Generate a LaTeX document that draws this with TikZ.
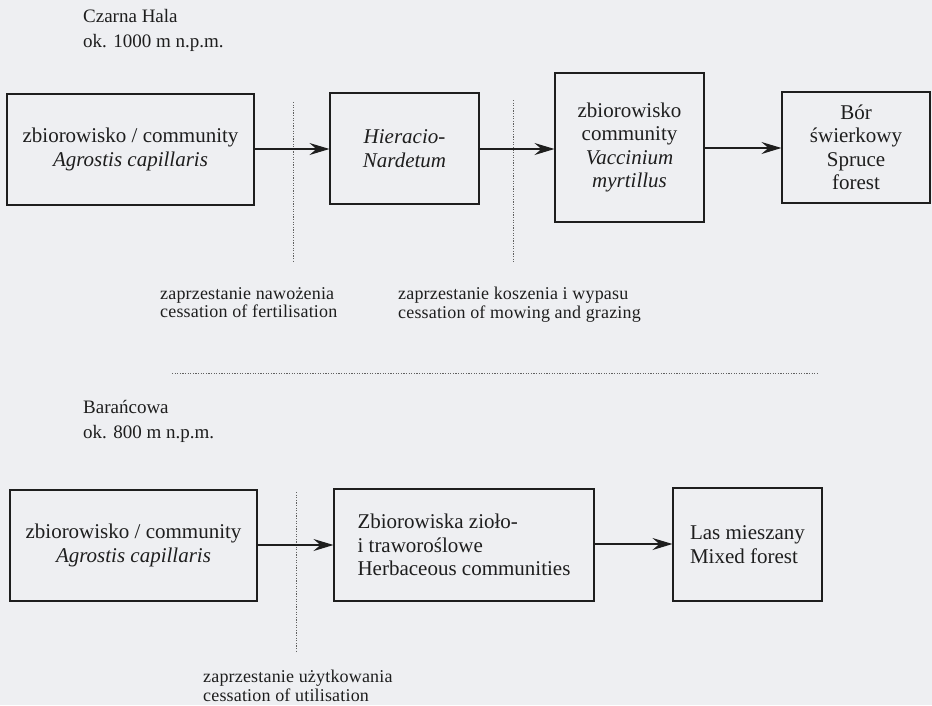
\documentclass[tikz,border=0pt]{standalone}
\usepackage{fontspec}
\setmainfont{Liberation Serif}
\usetikzlibrary{arrows.meta}
\definecolor{bg}{RGB}{238,239,242}
\definecolor{ink}{RGB}{30,30,30}
\begin{document}
\begin{tikzpicture}[x=1pt,y=-1pt,
  box/.style={draw=ink, line width=1.1pt, inner sep=0pt, align=center,
    font=\fontsize{21}{23.5}\selectfont, text=ink},
  arr/.style={draw=ink, line width=1.1pt, -{Stealth[length=20pt,width=12pt,inset=7pt]}},
  dotline/.style={draw=ink!70, line width=1pt, dash pattern=on 1.2pt off 1.4pt},
  title/.style={anchor=north west, inner sep=0pt, align=left,
    font=\fontsize{19}{25}\selectfont, text=ink},
  lbl/.style={anchor=north west, inner sep=0pt, align=left,
    font=\fontsize{18}{18.5}\selectfont\addfontfeature{LetterSpace=1}, text=ink}]
\fill[bg] (0,0) rectangle (932,705);
\useasboundingbox (0,0) rectangle (932,705);

% top row
\node[title] (t1) at (83,9) {Czarna Hala\\ok. 1000 m n.p.m.};
\node[box, minimum width=247pt, minimum height=111pt] (b1) at (130.5,149.5)
  {zbiorowisko / community\\\textit{Agrostis capillaris}};
\node[box, minimum width=149pt, minimum height=111pt] (b2) at (404.5,148.5)
  {\textit{Hieracio-}\\\textit{Nardetum}};
\node[box, minimum width=149pt, minimum height=149pt] (b3) at (629.5,147.5)
  {zbiorowisko\\community\\\textit{Vaccinium}\\\textit{myrtillus}};
\node[box, minimum width=148pt, minimum height=111pt] (b4) at (856,147.5)
  {Bór\\świerkowy\\Spruce\\forest};

\coordinate (d1a) at (293,102);
\coordinate (d1b) at (293,262);
\coordinate (d2a) at (513,100);
\coordinate (d2b) at (513,262);
\draw[dotline] (d1a) -- (d1b);
\draw[dotline] (d2a) -- (d2b);

\draw[arr] (b1.east |- 0,149) -- (b2.west |- 0,149);
\draw[arr] (b2.east |- 0,149) -- (b3.west |- 0,149);
\draw[arr] (b3.east |- 0,148) -- (b4.west |- 0,148);

\node[lbl] (l1) at (160,287) {zaprzestanie nawożenia\\cessation of fertilisation};
\node[lbl] (l2) at (398,287) {zaprzestanie koszenia i wypasu\\cessation of mowing and grazing};

\coordinate (h1) at (172,373);
\coordinate (h2) at (818,373);
\draw[dotline] (h1) -- (h2);

% bottom row
\node[title] (t2) at (83,400) {Barańcowa\\ok. 800 m n.p.m.};
\node[box, minimum width=247pt, minimum height=111pt] (b5) at (133.5,545.5)
  {zbiorowisko / community\\\textit{Agrostis capillaris}};
\node[box, minimum width=260pt, minimum height=112pt, align=left] (b6) at (464,545)
  {Zbiorowiska zioło-\\i traworoślowe\\Herbaceous communities};
\node[box, minimum width=149pt, minimum height=113pt, align=left] (b7) at (747.5,544.5)
  {Las mieszany\\Mixed forest};

\coordinate (d3a) at (296,492);
\coordinate (d3b) at (296,652);
\draw[dotline] (d3a) -- (d3b);

\draw[arr] (b5.east |- 0,545) -- (b6.west |- 0,545);
\draw[arr] (b6.east |- 0,544) -- (b7.west |- 0,544);

\node[lbl] (l3) at (203,670) {zaprzestanie użytkowania\\cessation of utilisation};
\end{tikzpicture}
\end{document}
